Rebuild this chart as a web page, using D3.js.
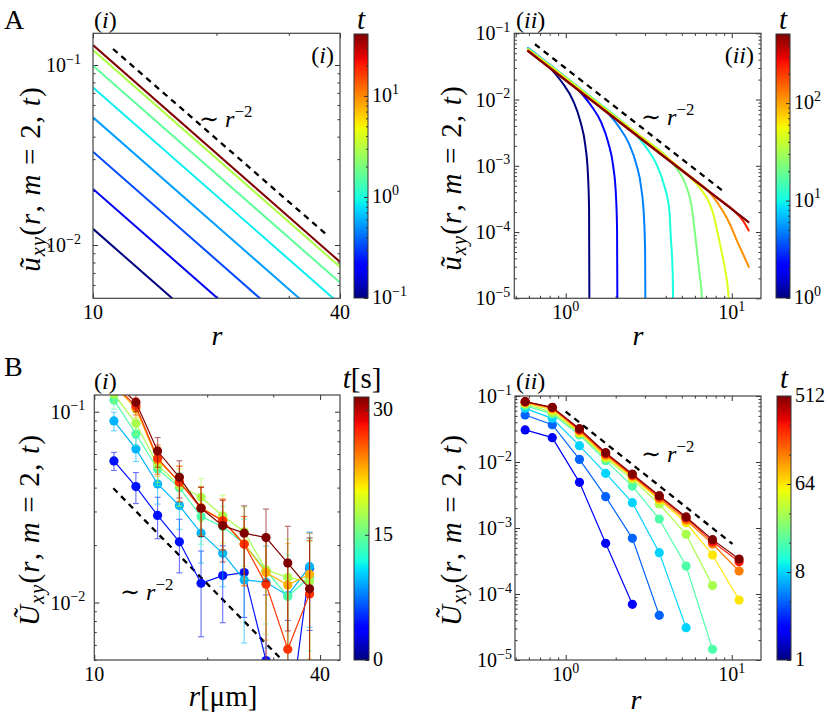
<!DOCTYPE html>
<html>
<head>
<meta charset="utf-8">
<style>
body { margin: 0; background: #fff; }
text { font-family: "Liberation Serif", "DejaVu Serif", serif; fill: #000; white-space: pre; }
</style>
</head>
<body>
<script src="https://cdnjs.cloudflare.com/ajax/libs/d3/7.8.5/d3.min.js"></script>
<svg id="fig" width="829" height="722"></svg>
<script>
// ---------- data ----------
// A(i): straight lines, value at r = 10 and r = 40
const aiT = [0.1, 0.18, 0.33, 0.54, 0.87, 1.63, 2.9, 41];
const aiR = [10, 40];
const aiAt10 = [0.0123, 0.0205, 0.033, 0.0512, 0.075, 0.099, 0.121, 0.129];
const aiAt40 = [0.00077, 0.00128, 0.00206, 0.0032, 0.00469, 0.00619, 0.00756, 0.00806];
const aiDashR = [11.19, 37.2];
const aiDashU = [0.1227, 0.01136];

// A(ii): curves
const aiiT = [1, 2.2, 4.8, 10.7, 22.6, 48, 114, 228, 512];
const aiiR = [
  [0.5876, 0.664, 0.837, 0.961, 1.105, 1.223, 1.311, 1.360, 1.382, 1.392],
  [0.5876, 0.75, 0.979, 1.235, 1.417, 1.630, 1.804, 1.934, 2.006, 2.038, 2.053],
  [0.5876, 0.75, 1.0, 1.445, 1.821, 2.091, 2.404, 2.661, 2.853, 2.959, 3.007, 3.029],
  [0.5876, 0.75, 1.0, 1.5, 2.131, 2.686, 3.084, 3.546, 3.925, 4.207, 4.30, 4.41, 4.48],
  [0.5876, 1.0, 2.0, 3.0, 4.06, 4.66, 5.24, 5.74, 6.07, 6.39, 6.60, 6.66],
  [0.5876, 1.0, 2.0, 4.0, 5.61, 6.45, 7.0, 7.40, 7.82, 8.31, 8.7, 9.12, 9.55, 9.68],
  [0.5876, 1.0, 2.0, 4.0, 6.0, 7.40, 8.91, 9.77, 10.72, 11.76, 12.72],
  [0.5876, 1.0, 2.0, 4.0, 8.0, 10.72, 11.76, 12.72],
  [0.5876, 2.7, 12.72]
];
const aiiU = [
  [0.0600, 0.0468, 0.0269, 0.01746, 0.00975, 0.00475, 0.00205, 7.62e-4, 2.24e-4, 1e-6],
  [0.0610, 0.0378, 0.0220, 0.01266, 0.00821, 0.00459, 0.00223, 9.65e-4, 3.59e-4, 1.05e-4, 1e-6],
  [0.0610, 0.0378, 0.0216, 0.01036, 0.00596, 0.003866, 0.002159, 0.001052, 4.54e-4, 1.687e-4, 4.96e-5, 1e-6],
  [0.0605, 0.0378, 0.0216, 0.00983, 0.004877, 0.002803, 0.001819, 0.001016, 4.95e-4, 2.136e-4, 7.9e-5, 2.3e-5, 1e-6],
  [0.0595, 0.0214, 0.0055, 0.0025, 1.368e-3, 9.12e-4, 5.41e-4, 2.40e-4, 7.53e-5, 2.36e-5, 1.05e-5, 1e-6],
  [0.058, 0.0212, 0.0054, 0.0014, 6.67e-4, 4.6e-4, 3.4e-4, 2.6e-4, 1.7e-4, 8.5e-5, 5.0e-5, 2.7e-5, 1.1e-5, 1e-6],
  [0.0565, 0.0198, 0.00515, 0.00134, 6.1e-4, 3.91e-4, 2.0e-4, 1.3e-4, 7.5e-5, 4.5e-5, 2.9e-5],
  [0.0555, 0.0196, 0.0051, 0.00132, 3.43e-4, 1.905e-4, 1.45e-4, 1.03e-4],
  [0.0547, 0.00282, 1.39e-4]
];
const aiiDashR = [0.653, 8.71];
const aiiDashU = [0.0683, 4.29e-4];

// B(i): measured points with error bars, t in seconds
const biT = [4.5, 9.5, 14, 17.5, 22.8, 27, 31.5];
const biR = [11.28, 12.91, 14.75, 16.86, 19.26, 22.0, 25.1, 28.7, 32.8, 37.5];
const biU = [
  [0.0552, 0.0405, 0.0286, 0.0208, 0.01262, 0.01384, 0.01436, 0.00497, 0.00206, 0.01514],
  [0.0894, 0.0638, 0.0418, 0.0322, 0.0231, 0.0181, 0.01314, 0.01277, 0.01089, 0.01542],
  [0.115, 0.0764, 0.0501, 0.04, 0.0282, 0.025, 0.0203, 0.01472, 0.01075, 0.01358],
  [0.1237, 0.0869, 0.0526, 0.041, 0.0356, 0.0285, 0.0235, 0.01483, 0.01352, 0.0129],
  [0.137, 0.104, 0.0558, 0.043, 0.0315, 0.0269, 0.0203, 0.01436, 0.01236, 0.01406],
  [0.139, 0.107, 0.057, 0.0427, 0.0312, 0.0268, 0.0202, 0.01248, 0.0057, 0.0111],
  [0.144, 0.112, 0.0622, 0.0453, 0.0312, 0.0253, 0.0231, 0.0219, 0.0161, 0.0118]
];
const biErr = [
  [0.006, 0.0075, 0.007, 0.0065, 0.006, 0.006, 0.006, 0.006, 0.006, 0.008],
  [0.01, 0.009, 0.009, 0.008, 0.007, 0.006, 0.007, 0.007, 0.006, 0.008],
  [0.012, 0.01, 0.009, 0.008, 0.008, 0.007, 0.007, 0.007, 0.007, 0.008],
  [0.012, 0.011, 0.01, 0.009, 0.009, 0.008, 0.008, 0.008, 0.008, 0.008],
  [0.013, 0.011, 0.01, 0.009, 0.009, 0.008, 0.008, 0.008, 0.008, 0.009],
  [0.013, 0.011, 0.01, 0.009, 0.009, 0.008, 0.008, 0.009, 0.01, 0.01],
  [0.014, 0.012, 0.011, 0.01, 0.009, 0.009, 0.009, 0.009, 0.009, 0.01]
];
const biDashR = [11.24, 31.3];
const biDashU = [0.0397, 0.00512];

// B(ii): simulated points
const biiT = [2, 4, 8, 16, 32, 64, 128, 256, 512];
const biiR = [0.57, 0.83, 1.21, 1.74, 2.52, 3.66, 5.31, 7.66, 11.07];
const biiU = [
  [0.0306, 0.0234, 0.00492, 5.86e-4, 6.97e-5],
  [0.0515, 0.0368, 0.01096, 0.00298, 6.97e-4, 4.75e-5],
  [0.065, 0.0459, 0.01767, 0.00673, 0.00242, 4.23e-4, 3.09e-5],
  [0.0714, 0.0534, 0.0257, 0.01047, 0.00432, 0.00137, 2.65e-4, 1.45e-5],
  [0.0756, 0.0566, 0.0272, 0.01137, 0.00546, 0.00231, 8.02e-4, 1.34e-4],
  [0.0783, 0.0614, 0.0281, 0.01205, 0.00586, 0.00266, 0.0012, 3.9e-4, 8.1e-5],
  [0.0802, 0.065, 0.0298, 0.01276, 0.00614, 0.00281, 0.00132, 5.73e-4, 2.23e-4],
  [0.082, 0.0665, 0.0309, 0.01337, 0.00635, 0.00298, 0.00142, 6.21e-4, 3.09e-4],
  [0.082, 0.0673, 0.032, 0.01384, 0.00658, 0.00309, 0.00147, 6.66e-4, 3.39e-4]
];
const biiDashR = [1.0, 10.1];
const biiDashU = [0.058, 5.73e-4];

// ---------- helpers ----------
const svg = d3.select('#fig');
const defs = svg.append('defs');

// matplotlib "jet"
const jetR = d3.scaleLinear().domain([0, 0.35, 0.66, 0.89, 1]).range([0, 0, 1, 1, 0.5]).clamp(true);
const jetG = d3.scaleLinear().domain([0, 0.125, 0.375, 0.64, 0.91, 1]).range([0, 0, 1, 1, 0, 0]).clamp(true);
const jetB = d3.scaleLinear().domain([0, 0.11, 0.34, 0.65, 1]).range([0.5, 1, 1, 0, 0]).clamp(true);
const jet = p => d3.rgb(255 * jetR(p), 255 * jetG(p), 255 * jetB(p)).formatHex();

const grad = defs.append('linearGradient').attr('id', 'jetgrad')
  .attr('x1', 0).attr('y1', 1).attr('x2', 0).attr('y2', 0);
d3.range(0, 1.0001, 0.01).forEach(p => grad.append('stop').attr('offset', p).attr('stop-color', jet(p)));

function rich(sel, parts, size, subDrop) {
  let cur = 0;
  parts.forEach(p => {
    const shift = p.sub ? size * (subDrop || 0.3) : p.sup ? -size * 0.42 : 0;
    const ts = sel.append('tspan').attr('dy', shift - cur).text(p.t);
    cur = shift;
    if (p.sub || p.sup) ts.attr('font-size', size * 0.7);
    if (p.it) ts.attr('font-style', 'italic');
  });
  return sel;
}

function label(x, y, parts, size, anchor) {
  const t = svg.append('text').attr('x', x).attr('y', y)
    .attr('font-size', size).attr('text-anchor', anchor || 'start');
  return rich(t, parts, size);
}

const pow = e => [{ t: '10' }, { t: (e < 0 ? '\u2212' + (-e) : '' + e), sup: 1 }];

function logTicks(d) {
  const maj = [], min = [];
  const lo = Math.floor(Math.log10(d[0])), hi = Math.ceil(Math.log10(d[1]));
  for (let e = lo; e <= hi; e++) {
    for (let k = 1; k < 10; k++) {
      const v = +(k * Math.pow(10, e)).toPrecision(6);
      if (v < d[0] * 0.999 || v > d[1] * 1.001) continue;
      (k === 1 ? maj : min).push(v);
    }
  }
  return [maj, min];
}

function tickSide(axis, tr, vals, len) {
  svg.append('g').attr('transform', tr)
    .call(axis.tickValues(vals).tickSize(-len).tickFormat(''))
    .call(s => s.select('.domain').remove())
    .call(s => s.selectAll('text').remove())
    .selectAll('line').attr('stroke', '#333').attr('stroke-width', 1);
}

function panel(o) {
  const x = d3.scaleLog().domain(o.xd).range([o.x0, o.x1]);
  const y = d3.scaleLog().domain(o.yd).range([o.y1, o.y0]);
  const [xMaj, xMin] = o.xTicks || logTicks(o.xd);
  const [yMaj, yMin] = logTicks(o.yd);
  [[xMaj, 5], [xMin, 2.5]].forEach(([v, l]) => {
    tickSide(d3.axisBottom(x), `translate(0,${o.y1})`, v, l);
    tickSide(d3.axisTop(x), `translate(0,${o.y0})`, v, l);
  });
  [[yMaj, 5], [yMin, 2.5]].forEach(([v, l]) => {
    tickSide(d3.axisLeft(y), `translate(${o.x0},0)`, v, l);
    tickSide(d3.axisRight(y), `translate(${o.x1},0)`, v, l);
  });
  const id = 'clip' + o.name;
  defs.append('clipPath').attr('id', id).append('rect')
    .attr('x', o.x0).attr('y', o.y0).attr('width', o.x1 - o.x0).attr('height', o.y1 - o.y0);
  const plot = svg.append('g').attr('clip-path', `url(#${id})`);
  svg.append('rect').attr('x', o.x0).attr('y', o.y0).attr('width', o.x1 - o.x0).attr('height', o.y1 - o.y0)
    .attr('fill', 'none').attr('stroke', '#444').attr('stroke-width', 1.2);
  // tick labels
  (o.xLabels || xMaj.map(v => [v, pow(Math.round(Math.log10(v)))])).forEach(([v, parts]) =>
    label(x(v), o.y1 + 21, parts, 20, 'middle'));
  yMaj.forEach(v => label(o.x0 - o.pad, y(v) + 7, pow(Math.round(Math.log10(v))), 20, 'end'));
  return { x, y, plot };
}

function colorbar(o) {
  const s = (o.log ? d3.scaleLog() : d3.scaleLinear()).domain(o.domain).range([o.y1, o.y0]);
  svg.append('rect').attr('x', o.x0).attr('y', o.y0).attr('width', o.x1 - o.x0).attr('height', o.y1 - o.y0)
    .attr('fill', 'url(#jetgrad)');
  tickSide(d3.axisRight(s), `translate(${o.x1},0)`, o.ticks, 4);
  if (o.minor) tickSide(d3.axisRight(s), `translate(${o.x1},0)`, o.minor, 2);
  svg.append('rect').attr('x', o.x0).attr('y', o.y0).attr('width', o.x1 - o.x0).attr('height', o.y1 - o.y0)
    .attr('fill', 'none').attr('stroke', '#333').attr('stroke-width', 1);
  o.ticks.forEach((v, i) => label(o.x1 + 4, s(v) + 6, o.labels[i], 20));
  // color lookup for data
  const n = (o.log ? d3.scaleLog() : d3.scaleLinear()).domain(o.domain).range([0, 1]).clamp(true);
  return t => jet(n(t));
}

function yTitle(cx, cy, parts) {
  const t = svg.append('text').attr('transform', `translate(${cx},${cy}) rotate(-90)`)
    .attr('font-size', 29).attr('text-anchor', 'middle').attr('letter-spacing', 1.2);
  rich(t, parts, 29, 0.18);
}

const uParts = [{ t: '\u0169', it: 1 }, { t: 'xy', it: 1, sub: 1 }, { t: '(' }, { t: 'r', it: 1 }, { t: ', ' },
  { t: 'm', it: 1 }, { t: ' = 2, ' }, { t: 't', it: 1 }, { t: ')' }];
const UParts = [{ t: '\u0168', it: 1 }, { t: 'xy', it: 1, sub: 1 }, { t: '(' }, { t: 'r', it: 1 }, { t: ', ' },
  { t: 'm', it: 1 }, { t: ' = 2, ' }, { t: 't', it: 1 }, { t: ')' }];
const simParts = [{ t: '\u223C ' }, { t: 'r', it: 1 }, { t: '\u22122', sup: 1 }];

function dashed(p, rs, us) {
  p.plot.append('path')
    .attr('d', d3.line().x(d => p.x(d[0])).y(d => p.y(d[1]))(rs.map((r, i) => [r, us[i]])))
    .attr('fill', 'none').attr('stroke', '#000').attr('stroke-width', 2.3).attr('stroke-dasharray', '6,5');
}

// ---------- panel A(i) ----------
const cA1 = colorbar({ x0: 354, x1: 368, y0: 34, y1: 298, log: 1, domain: [0.1, 41],
  ticks: [0.1, 1, 10], labels: [pow(-1), pow(0), pow(1)],
  minor: [0.2, 0.3, 0.4, 0.5, 0.6, 0.7, 0.8, 0.9, 2, 3, 4, 5, 6, 7, 8, 9, 20, 30, 40] });
const pA1 = panel({ name: 'A1', x0: 93, x1: 340, y0: 33.3, y1: 298.3, xd: [10, 40], yd: [0.00506, 0.15], pad: 12,
  xTicks: [[10, 40], [20, 30]], xLabels: [[10, [{ t: '10' }]], [40, [{ t: '40' }]]] });
aiT.forEach((t, i) => {
  pA1.plot.append('path')
    .attr('d', d3.line().x(d => pA1.x(d[0])).y(d => pA1.y(d[1]))([[aiR[0], aiAt10[i]], [aiR[1], aiAt40[i]]]))
    .attr('fill', 'none').attr('stroke', cA1(t)).attr('stroke-width', 2);
});
dashed(pA1, aiDashR, aiDashU);

// ---------- panel A(ii) ----------
const cA2 = colorbar({ x0: 776, x1: 790, y0: 34, y1: 298, log: 1, domain: [1, 512],
  ticks: [1, 10, 100], labels: [pow(0), pow(1), pow(2)],
  minor: [2, 3, 4, 5, 6, 7, 8, 9, 20, 30, 40, 50, 60, 70, 80, 90, 200, 300, 400, 500] });
const pA2 = panel({ name: 'A2', x0: 514.3, x1: 761, y0: 33.3, y1: 298.3, xd: [0.49, 15], yd: [1e-5, 0.1], pad: 4 });
aiiT.forEach((t, i) => {
  pA2.plot.append('path')
    .attr('d', d3.line().curve(d3.curveMonotoneX).x(d => pA2.x(d[0])).y(d => pA2.y(d[1]))(aiiR[i].map((r, j) => [r, aiiU[i][j]])))
    .attr('fill', 'none').attr('stroke', cA2(t)).attr('stroke-width', i === aiiT.length - 1 ? 2.3 : 2);
});
dashed(pA2, aiiDashR, aiiDashU);

// ---------- panel B(i) ----------
const cB1 = colorbar({ x0: 354, x1: 369, y0: 397, y1: 660, log: 0, domain: [0, 31.5],
  ticks: [0, 15, 30], labels: [[{ t: '0' }], [{ t: '15' }], [{ t: '30' }]] });
const pB1 = panel({ name: 'B1', x0: 94.3, x1: 340, y0: 395, y1: 660, xd: [10, 45.2], yd: [0.005, 0.1223], pad: 9,
  xTicks: [[10, 40], [20, 30]], xLabels: [[10, [{ t: '10' }]], [40, [{ t: '40' }]]] });
dashed(pB1, biDashR, biDashU);
biT.forEach((t, i) => {
  const col = cB1(t);
  const pts = biR.map((r, j) => [r, biU[i][j], biErr[i][j]]);
  const eb = pB1.plot.append('g').attr('stroke', col).attr('stroke-width', 1.1).attr('opacity', 0.6);
  pts.forEach(([r, u, e]) => {
    const xx = pB1.x(r), top = pB1.y(u + e), bot = u - e > 0.001 ? pB1.y(u - e) : pB1.y(0.001);
    eb.append('line').attr('x1', xx).attr('x2', xx).attr('y1', top).attr('y2', bot);
    [top, bot].forEach(yy => eb.append('line').attr('x1', xx - 3).attr('x2', xx + 3).attr('y1', yy).attr('y2', yy));
  });
  pB1.plot.append('path')
    .attr('d', d3.line().x(d => pB1.x(d[0])).y(d => pB1.y(d[1]))(pts))
    .attr('fill', 'none').attr('stroke', col).attr('stroke-width', 1.2);
  pB1.plot.selectAll(null).data(pts).join('circle')
    .attr('cx', d => pB1.x(d[0])).attr('cy', d => pB1.y(d[1])).attr('r', 4.6).attr('fill', col);
});

// ---------- panel B(ii) ----------
const cB2 = colorbar({ x0: 777, x1: 791, y0: 396, y1: 660, log: 1, domain: [1, 512],
  ticks: [1, 8, 64, 512], labels: [[{ t: '1' }], [{ t: '8' }], [{ t: '64' }], [{ t: '512' }]],
  minor: [2, 4, 16, 32, 128, 256] });
const pB2 = panel({ name: 'B2', x0: 515, x1: 761, y0: 396, y1: 660, xd: [0.495, 15], yd: [1e-5, 0.1], pad: 3 });
biiT.forEach((t, i) => {
  const col = cB2(t);
  const pts = biiU[i].map((u, j) => [biiR[j], u]);
  pB2.plot.append('path')
    .attr('d', d3.line().x(d => pB2.x(d[0])).y(d => pB2.y(d[1]))(pts))
    .attr('fill', 'none').attr('stroke', col).attr('stroke-width', 1.2);
  pB2.plot.selectAll(null).data(pts).join('circle')
    .attr('cx', d => pB2.x(d[0])).attr('cy', d => pB2.y(d[1])).attr('r', 4.6).attr('fill', col);
});
dashed(pB2, biiDashR, biiDashU);

// ---------- texts ----------
label(4, 29, [{ t: 'A' }], 28);
label(4, 376, [{ t: 'B' }], 28);
label(94, 28, [{ t: '(' }, { t: 'i', it: 1 }, { t: ')' }], 24);
label(334, 63, [{ t: '(' }, { t: 'i', it: 1 }, { t: ')' }], 24, 'end');
label(516, 28, [{ t: '(' }, { t: 'ii', it: 1 }, { t: ')' }], 24);
label(754, 63, [{ t: '(' }, { t: 'ii', it: 1 }, { t: ')' }], 24, 'end');
label(94, 389, [{ t: '(' }, { t: 'i', it: 1 }, { t: ')' }], 24);
label(516, 389, [{ t: '(' }, { t: 'ii', it: 1 }, { t: ')' }], 24);

label(199, 127, simParts, 24);
label(641, 125, simParts, 24);
label(120, 600, simParts, 24);
label(641, 462, simParts, 24);

label(361, 29, [{ t: 't', it: 1 }], 29, 'middle');
label(783, 29, [{ t: 't', it: 1 }], 29, 'middle');
label(362, 388, [{ t: 't', it: 1 }, { t: '[s]' }], 29, 'middle');
label(784, 388, [{ t: 't', it: 1 }], 29, 'middle');

yTitle(40, 179, uParts);
yTitle(461, 178, uParts);
yTitle(39, 530, UParts);
yTitle(461, 530, UParts);

label(217, 345, [{ t: 'r', it: 1 }], 28, 'middle');
label(638, 345, [{ t: 'r', it: 1 }], 28, 'middle');
label(223, 706, [{ t: 'r', it: 1 }, { t: '[\u03BCm]' }], 29, 'middle');
label(636, 709, [{ t: 'r', it: 1 }], 28, 'middle');
</script>
</body>
</html>
